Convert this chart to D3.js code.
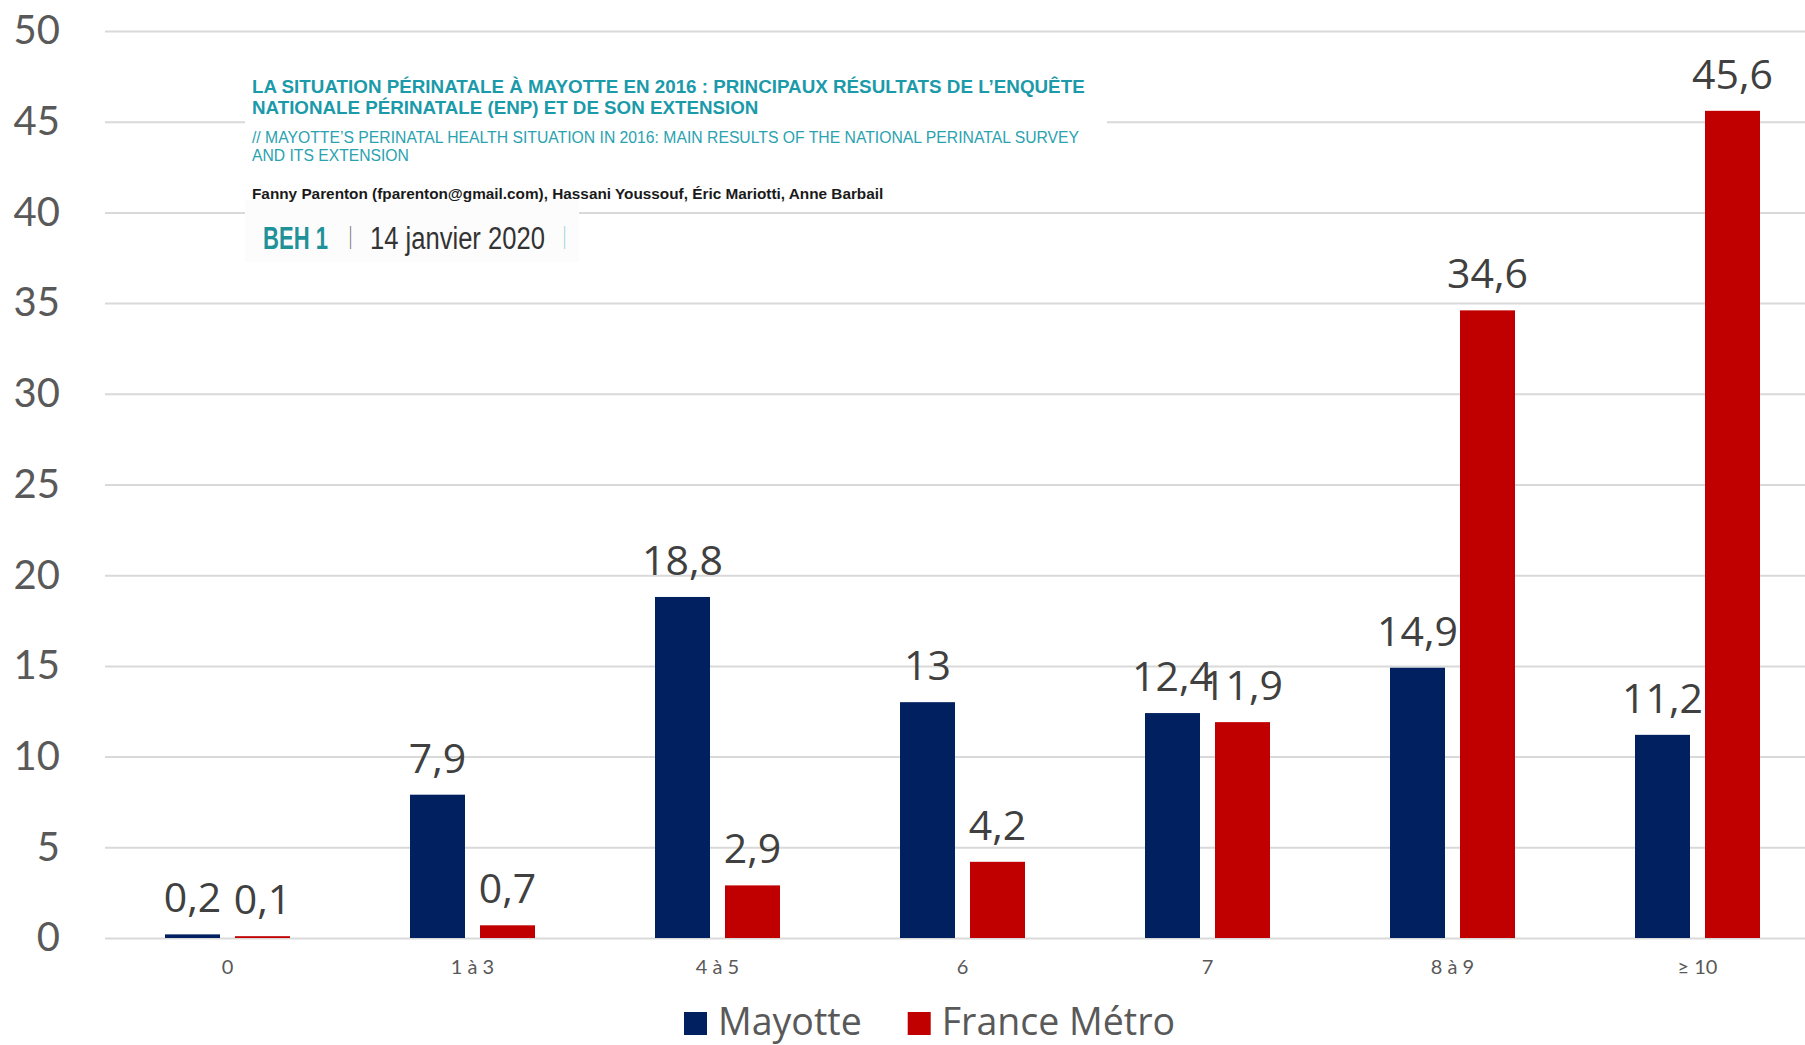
<!DOCTYPE html>
<html>
<head>
<meta charset="utf-8">
<script src="https://cdn.jsdelivr.net/npm/d3@7"></script>
<style>
  html, body { margin: 0; padding: 0; background: #fff; overflow: hidden; }
  svg { display: block; }
</style>
</head>
<body>
<svg id="chart" width="1805" height="1045"></svg>
<script>
// Categories (x axis) and the two series, in percent
const categories = ["0", "1 à 3", "4 à 5", "6", "7", "8 à 9", "≥ 10"];
const seriesNames = ["Mayotte", "France Métro"];
const mayotteValues = [0.2, 7.9, 18.8, 13, 12.4, 14.9, 11.2];
const franceMetroValues = [0.1, 0.7, 2.9, 4.2, 11.9, 34.6, 45.6];
const yTickValues = [0, 5, 10, 15, 20, 25, 30, 35, 40, 45, 50];

// Header text block (publication reference)
const headerTitle = [
  "LA SITUATION PÉRINATALE À MAYOTTE EN 2016 : PRINCIPAUX RÉSULTATS DE L’ENQUÊTE",
  "NATIONALE PÉRINATALE (ENP) ET DE SON EXTENSION"
];
const headerSubtitle = [
  "// MAYOTTE’S PERINATAL HEALTH SITUATION IN 2016: MAIN RESULTS OF THE NATIONAL PERINATAL SURVEY",
  "AND ITS EXTENSION"
];
const headerAuthors = "Fanny Parenton (fparenton@gmail.com), Hassani Youssouf, Éric Mariotti, Anne Barbail";
const headerIssue = ["BEH 1", "|", "14 janvier 2020", "|"];

const colors = { "Mayotte": "#002060", "France Métro": "#C00000" };

const rows = categories.map((c, i) => ({
  category: c,
  values: [
    { series: seriesNames[0], value: mayotteValues[i] },
    { series: seriesNames[1], value: franceMetroValues[i] }
  ]
}));

const svg = d3.select("#chart");

// Scales
const x0 = d3.scaleBand()
  .domain(categories)
  .range([105, 1820])
  .paddingInner(120 / 245)
  .paddingOuter(60 / 245);

const x1 = d3.scaleBand()
  .domain(seriesNames)
  .range([0, x0.bandwidth()])
  .paddingInner(15 / 70)
  .paddingOuter(0);

const y = d3.scaleLinear().domain([0, 50]).range([938, 31]);

// Horizontal gridlines + y tick labels
const yAxis = svg.append("g")
  .attr("transform", "translate(105,0)")
  .call(d3.axisLeft(y).tickValues(yTickValues).tickSize(-1720).tickPadding(45).tickFormat(d3.format("d")));
yAxis.select(".domain").remove();
yAxis.selectAll(".tick line").attr("stroke", "#d9d9d9").attr("stroke-width", 2);
yAxis.selectAll(".tick text")
  .attr("fill", "#595959")
  .style("font-family", "Lato, 'Liberation Sans', sans-serif")
  .style("font-size", "40px");

// Category labels
const xAxis = svg.append("g")
  .attr("transform", "translate(0,938)")
  .call(d3.axisBottom(x0).tickSize(0).tickPadding(22));
xAxis.select(".domain").remove();
xAxis.selectAll(".tick text")
  .attr("fill", "#595959")
  .style("font-family", "Lato, 'Liberation Sans', sans-serif")
  .style("font-size", "20px");

// Publication header panel laid over the grid
const header = svg.append("g");
header.append("rect").attr("x", 245).attr("y", 62).attr("width", 862).attr("height", 146).attr("fill", "#fff");
header.append("rect").attr("x", 245).attr("y", 200).attr("width", 334).attr("height", 62).attr("fill", "#fdfcfc");

const hFont = "'Liberation Sans', Arial, sans-serif";

// Draws a text condensed horizontally so that it spans the given width
function condensedText(parent, str, x, yBase, width, style) {
  const t = parent.append("text")
    .attr("x", 0).attr("y", 0)
    .attr("fill", style.fill)
    .style("font-family", hFont)
    .style("font-weight", style.weight || "normal")
    .style("font-size", style.size + "px")
    .text(str);
  const natural = t.node().getComputedTextLength();
  t.attr("transform", `translate(${x},${yBase}) scale(${width / natural},1)`);
  return t;
}

const titleLayout = [{ y: 93, w: 833 }, { y: 114, w: 507 }];
headerTitle.forEach((t, i) =>
  condensedText(header, t, 252, titleLayout[i].y, titleLayout[i].w,
    { fill: "#1b9aaa", weight: "bold", size: 17.5 }));

const subLayout = [{ y: 143, w: 828 }, { y: 161, w: 157 }];
headerSubtitle.forEach((t, i) =>
  condensedText(header, t, 252, subLayout[i].y, subLayout[i].w,
    { fill: "#2aa2b0", size: 16.5 }));

condensedText(header, headerAuthors, 252, 199, 632,
  { fill: "#1a1a1a", weight: "bold", size: 15 });

// Issue line: label, separators and date
const issueLayout = [
  { x: 263, y: 249, w: 65, fill: "#1f9198", weight: "bold", size: 31 },
  { x: 349, y: 244, w: 3, fill: "#777", weight: "normal", size: 24 },
  { x: 370, y: 249, w: 175, fill: "#333", weight: "normal", size: 31 },
  { x: 563, y: 244, w: 3, fill: "#9fd5d8", weight: "normal", size: 24 }
];
headerIssue.forEach((t, i) => {
  const L = issueLayout[i];
  condensedText(header, t, L.x, L.y, L.w, L);
});

// Bars
const groups = svg.append("g").selectAll("g")
  .data(rows).join("g")
  .attr("transform", d => `translate(${x0(d.category)},0)`);

groups.selectAll("rect")
  .data(d => d.values).join("rect")
  .attr("x", d => x1(d.series))
  .attr("y", d => y(d.value))
  .attr("width", x1.bandwidth())
  .attr("height", d => y(0) - y(d.value))
  .attr("fill", d => colors[d.series]);

// Value labels
groups.selectAll("text.value")
  .data(d => d.values).join("text")
  .attr("class", "value")
  .attr("x", d => x1(d.series) + x1.bandwidth() / 2)
  .attr("y", d => y(d.value) - 22)
  .attr("text-anchor", "middle")
  .attr("fill", "#404040")
  .style("font-family", "'Open Sans', 'Noto Sans', sans-serif")
  .style("font-size", "41px")
  .text(d => String(d.value).replace(".", ","));

// Legend
const legend = svg.append("g");
let lx = 684;
seriesNames.forEach(name => {
  legend.append("rect")
    .attr("x", lx).attr("y", 1012).attr("width", 23).attr("height", 23)
    .attr("fill", colors[name]);
  const t = legend.append("text")
    .attr("x", lx + 34).attr("y", 1035)
    .attr("fill", "#595959")
    .style("font-family", "'Open Sans', 'Noto Sans', sans-serif")
    .style("font-size", "37.5px")
    .text(name);
  lx += 34 + t.node().getComputedTextLength() + 46;
});
</script>
</body>
</html>
